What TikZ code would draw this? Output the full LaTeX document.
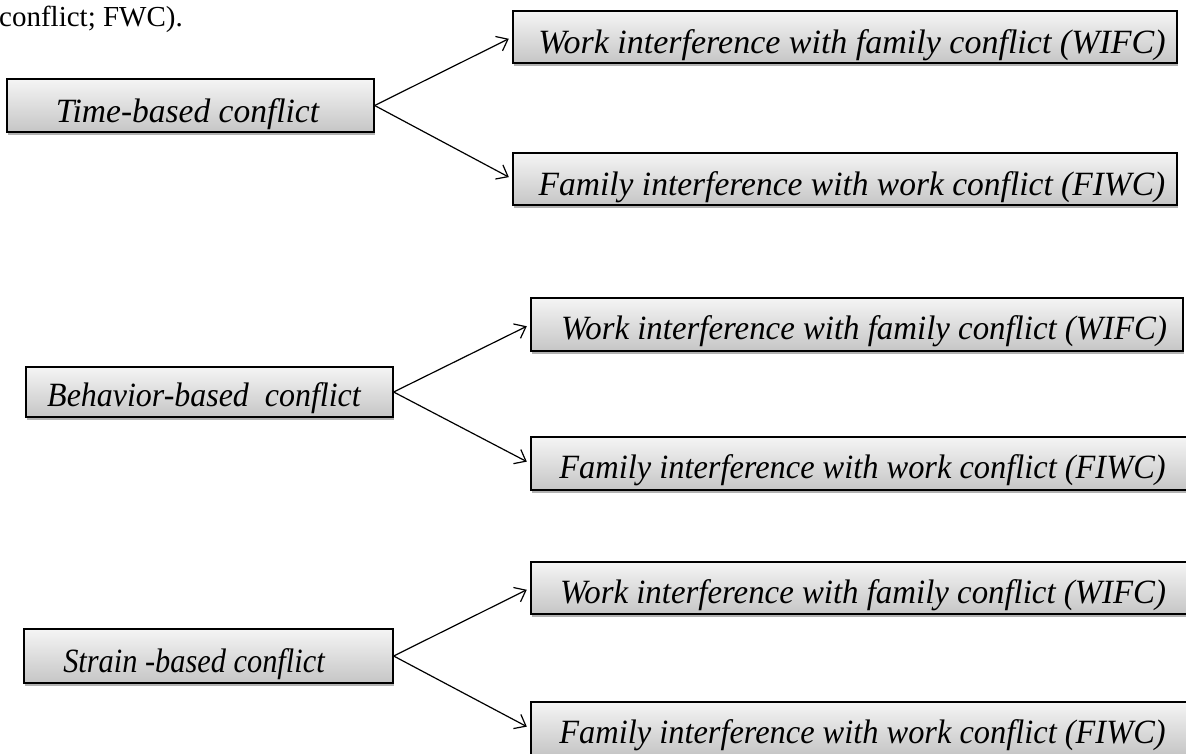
\documentclass[tikz,border=0pt]{standalone}
\usepackage{fontspec}
\setmainfont{Liberation Serif}
\usetikzlibrary{arrows.meta,shadows}
\newcommand{\bxt}[4]{\hspace*{#1pt}\scalebox{#3}[1]{#4}\hspace*{#2pt}}
\begin{document}
\begin{tikzpicture}[x=1pt,y=-1pt,
  cbox/.style={draw=black, line width=1.3pt, rectangle, inner sep=0pt,
    top color=gray!8, bottom color=gray!45,
    font=\fontsize{34}{40}\selectfont\itshape, text height=34pt, text depth=0pt,
    drop shadow={shadow xshift=1pt, shadow yshift=-3pt, fill=gray!60, opacity=1}},
  lowbox/.style={cbox, text height=30pt},
  conn/.style={line width=1.2pt, -{Straight Barb[length=10pt,width=16pt,line width=1.2pt]}, shorten >=4pt}
]
\useasboundingbox (0,0) rectangle (1186,754);
\node[anchor=base west, inner sep=0pt, font=\fontsize{29}{34}\selectfont] (cap) at (-1,27) {conflict; FWC).};

\node[cbox, minimum width=367, minimum height=53] (time) at (190.5,105.5) {\bxt{0}{6}{0.985}{Time-based conflict}};
\node[cbox, minimum width=664, minimum height=52] (wifc1) at (845,37) {\bxt{14}{0}{1}{Work interference with family conflict (WIFC)}};
\node[cbox, minimum width=664, minimum height=52] (fiwc1) at (845,179) {\bxt{14}{0}{0.985}{Family interference with work conflict (FIWC)}};

\node[lowbox, text height=28pt, minimum width=367, minimum height=50] (beh) at (209.5,392) {\bxt{0}{11}{0.94}{Behavior-based\ \ conflict}};
\node[lowbox, minimum width=652, minimum height=53] (wifc2) at (857,324.5) {\bxt{14}{0}{0.966}{Work interference with family conflict (WIFC)}};
\node[lowbox, minimum width=659, minimum height=53] (fiwc2) at (860.5,463.5) {\bxt{4}{0}{0.953}{Family interference with work conflict (FIWC)}};

\node[lowbox, text height=32pt, minimum width=369, minimum height=54] (str) at (208.5,656) {\bxt{0}{29}{0.893}{Strain -based conflict}};
\node[lowbox, minimum width=659, minimum height=52] (wifc3) at (860.5,588) {\bxt{5}{0}{0.966}{Work interference with family conflict (WIFC)}};
\node[lowbox, minimum width=659, minimum height=53] (fiwc3) at (860.5,728.5) {\bxt{4}{0}{0.953}{Family interference with work conflict (FIWC)}};

\draw[conn] (time.east) -- (wifc1.west);
\draw[conn] (time.east) -- (fiwc1.west);
\draw[conn] (beh.east) -- (wifc2.west);
\draw[conn] (beh.east) -- (fiwc2.west);
\draw[conn] (str.east) -- (wifc3.west);
\draw[conn] (str.east) -- (fiwc3.west);
\end{tikzpicture}
\end{document}
